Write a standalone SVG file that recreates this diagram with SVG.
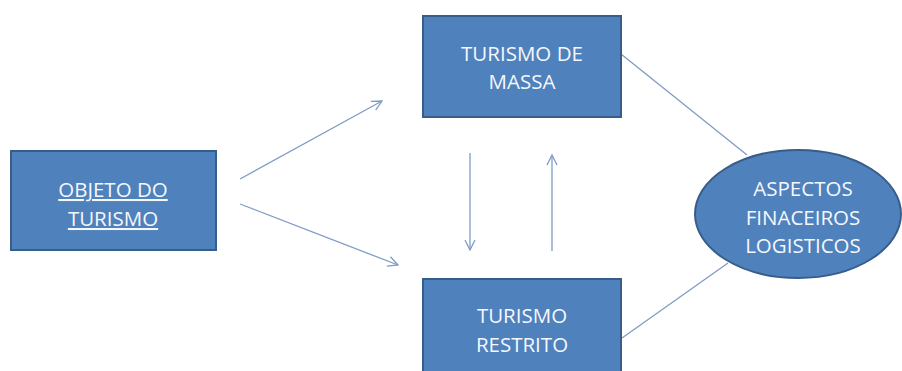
<svg xmlns="http://www.w3.org/2000/svg" width="902" height="371" viewBox="0 0 902 371">
<defs>
<style>
.box{fill:#4f81bd;stroke:#385d8a;stroke-width:2}
.t{font-family:"Open Sans","Liberation Sans",sans-serif;font-size:20.5px;fill:#f4f7fb;text-anchor:middle}
.u{text-decoration:underline}
.c{stroke:#7f9cc4;stroke-width:1.3;fill:none}
</style>
<marker id="ah" viewBox="0 0 12 12" refX="11" refY="6" markerWidth="12" markerHeight="12" markerUnits="userSpaceOnUse" orient="auto">
<path d="M1,1 L11,6 L1,11" fill="none" stroke="#7f9cc4" stroke-width="1.3"/>
</marker>
</defs>
<rect width="902" height="371" fill="#ffffff"/>
<g id="connectors">
<line class="c" x1="240" y1="179" x2="382" y2="101" marker-end="url(#ah)"/>
<line class="c" x1="240" y1="204" x2="398" y2="265" marker-end="url(#ah)"/>
<line class="c" x1="470" y1="153" x2="470" y2="250" marker-end="url(#ah)"/>
<line class="c" x1="552" y1="251" x2="552" y2="155" marker-end="url(#ah)"/>
<line class="c" x1="621" y1="54" x2="747" y2="155"/>
<line class="c" x1="622" y1="338" x2="728" y2="263"/>
</g>
<g id="objeto">
<rect class="box" x="11" y="151" width="205" height="99"/>
<text class="t u" x="113" y="197">OBJETO DO</text>
<text class="t u" x="113" y="226">TURISMO</text>
</g>
<g id="massa">
<rect class="box" x="423" y="16" width="198" height="101"/>
<text class="t" x="522" y="61">TURISMO DE</text>
<text class="t" x="522" y="89">MASSA</text>
</g>
<g id="restrito">
<rect class="box" x="423" y="279" width="198" height="100"/>
<text class="t" x="522" y="323">TURISMO</text>
<text class="t" x="522" y="352">RESTRITO</text>
</g>
<g id="aspectos">
<ellipse class="box" cx="798" cy="214" rx="103" ry="64"/>
<text class="t" x="803" y="196">ASPECTOS</text>
<text class="t" x="803" y="225">FINACEIROS</text>
<text class="t" x="803" y="253">LOGISTICOS</text>
</g>
</svg>
